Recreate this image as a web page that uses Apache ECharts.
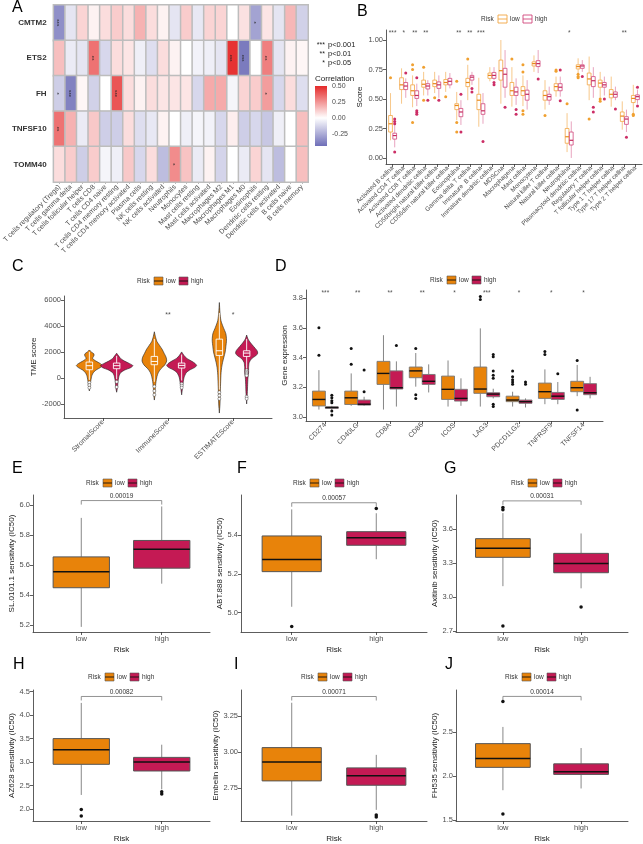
<!DOCTYPE html>
<html>
<head>
<meta charset="utf-8">
<script src="https://cdn.jsdelivr.net/npm/echarts@6/dist/echarts.min.js"></script>
<style>
  html, body { margin: 0; padding: 0; background: #fff; }
  #chart { width: 643px; height: 844px; }
</style>
</head>
<body>
<div id="chart"></div>
<script>
// ---------- A: correlation heatmap ----------
var heatRows = ['CMTM2', 'ETS2', 'FH', 'TNFSF10', 'TOMM40'];
var heatCols = ['T cells regulatory (Tregs)', 'T cells gamma delta', 'T cells follicular helper', 'T cells CD8',
  'T cells CD4 naive', 'T cells CD4 memory resting', 'T cells CD4 memory activated', 'Plasma cells',
  'NK cells resting', 'NK cells activated', 'Neutrophils', 'Monocytes', 'Mast cells resting',
  'Mast cells activated', 'Macrophages M2', 'Macrophages M1', 'Macrophages M0', 'Eosinophils',
  'Dendritic cells resting', 'Dendritic cells activated', 'B cells naive', 'B cells memory'];
var corrCMTM2 = [-0.34, -0.08, 0.10, 0.03, 0.08, 0.12, 0.08, 0.18, 0.08, 0.03, -0.08, 0.12, -0.07, 0.10, 0.10, 0.0, 0.07, -0.28, 0.06, -0.08, 0.17, -0.14];
var corrETS2 = [0.15, -0.06, -0.08, 0.33, -0.12, 0.08, 0.06, -0.05, -0.10, 0.08, 0.03, 0.0, -0.04, -0.05, -0.08, 0.48, -0.40, 0.0, 0.30, -0.08, 0.03, 0.02];
var corrFH = [-0.15, -0.38, 0.02, -0.14, 0.0, 0.40, 0.08, 0.03, 0.08, 0.06, 0.06, 0.06, -0.12, 0.20, 0.20, -0.03, 0.10, 0.12, 0.23, -0.12, 0.08, -0.10];
var corrTNFSF10 = [0.33, 0.18, -0.06, 0.13, -0.15, -0.15, 0.08, -0.10, -0.07, 0.03, 0.0, -0.05, -0.03, -0.04, -0.12, 0.04, -0.15, -0.12, -0.17, -0.05, 0.0, 0.15];
var corrTOMM40 = [0.08, 0.12, -0.15, 0.12, -0.03, -0.05, 0.13, -0.12, 0.08, -0.20, 0.27, 0.14, -0.06, 0.03, -0.13, 0.0, -0.06, 0.10, -0.08, -0.20, 0.0, 0.15];
var starsCMTM2 = ['***', '', '', '', '', '', '', '', '', '', '', '', '', '', '', '', '', '*', '', '', '', ''];
var starsETS2 = ['', '', '', '**', '', '', '', '', '', '', '', '', '', '', '', '***', '***', '', '**', '', '', ''];
var starsFH = ['*', '***', '', '', '', '***', '', '', '', '', '', '', '', '', '', '', '', '', '*', '', '', ''];
var starsTNFSF10 = ['**', '', '', '', '', '', '', '', '', '', '', '', '', '', '', '', '', '', '', '', '', ''];
var starsTOMM40 = ['', '', '', '', '', '', '', '', '', '', '*', '', '', '', '', '', '', '', '', '', '', ''];
var corrTicks = [-0.25, 0, 0.25, 0.5];

// ---------- B: ssGSEA scores ----------
var ssgseaCells = ['Activated B cellna', 'Activated CD4 T cellna', 'Activated CD8 T cellna', 'Activated dendritic cellna',
  'CD56bright natural killer cellna', 'CD56dim natural killer cellna', 'Eosinophilna', 'Gamma delta T cellna',
  'Immature  B cellna', 'Immature dendritic cellna', 'MDSCna', 'Macrophagena', 'Mast cellna', 'Monocytena',
  'Natural killer T cellna', 'Natural killer cellna', 'Neutrophilna', 'Plasmacytoid dendritic cellna',
  'Regulatory T cellna', 'T follicular helper cellna', 'Type 1 T helper cellna', 'Type 17 T helper cellna',
  'Type 2 T helper cellna'];
// [lower whisker, Q1, median, Q3, upper whisker]
var scoreLow = [[0.15, 0.22, 0.29, 0.36, 0.55], [0.46, 0.58, 0.62, 0.68, 0.76], [0.43, 0.53, 0.57, 0.62, 0.70],
  [0.53, 0.60, 0.625, 0.66, 0.73], [0.55, 0.605, 0.63, 0.66, 0.73], [0.56, 0.62, 0.64, 0.665, 0.73],
  [0.32, 0.41, 0.445, 0.46, 0.56], [0.49, 0.605, 0.64, 0.675, 0.79], [0.265, 0.41, 0.49, 0.54, 0.68],
  [0.65, 0.675, 0.70, 0.72, 0.77], [0.46, 0.66, 0.74, 0.83, 1.00], [0.435, 0.53, 0.57, 0.64, 0.77],
  [0.44, 0.53, 0.57, 0.605, 0.70], [0.73, 0.78, 0.80, 0.815, 0.87], [0.41, 0.49, 0.53, 0.57, 0.66],
  [0.52, 0.57, 0.605, 0.63, 0.69], [0.05, 0.125, 0.18, 0.25, 0.38], [0.72, 0.755, 0.775, 0.79, 0.845],
  [0.49, 0.62, 0.67, 0.72, 0.86], [0.51, 0.60, 0.635, 0.66, 0.73], [0.435, 0.51, 0.54, 0.58, 0.69],
  [0.24, 0.31, 0.355, 0.39, 0.48], [0.38, 0.47, 0.505, 0.53, 0.62]];
var scoreHigh = [[0.09, 0.16, 0.19, 0.21, 0.28], [0.51, 0.58, 0.61, 0.64, 0.675], [0.44, 0.505, 0.53, 0.57, 0.63],
  [0.53, 0.585, 0.61, 0.63, 0.66], [0.51, 0.59, 0.62, 0.645, 0.70], [0.59, 0.62, 0.65, 0.675, 0.72],
  [0.28, 0.35, 0.39, 0.42, 0.49], [0.62, 0.66, 0.685, 0.70, 0.73], [0.29, 0.37, 0.40, 0.46, 0.55],
  [0.66, 0.675, 0.70, 0.725, 0.77], [0.51, 0.60, 0.71, 0.76, 0.915], [0.45, 0.53, 0.56, 0.60, 0.675],
  [0.41, 0.49, 0.54, 0.575, 0.66], [0.72, 0.775, 0.80, 0.825, 0.915], [0.45, 0.49, 0.52, 0.54, 0.605],
  [0.52, 0.57, 0.60, 0.63, 0.69], [0.0, 0.11, 0.15, 0.22, 0.31], [0.73, 0.76, 0.78, 0.79, 0.83],
  [0.51, 0.605, 0.655, 0.69, 0.77], [0.53, 0.60, 0.62, 0.64, 0.69], [0.49, 0.515, 0.54, 0.56, 0.605],
  [0.22, 0.285, 0.33, 0.35, 0.41], [0.46, 0.495, 0.52, 0.535, 0.58]];
var scoreLowOut = [[0.68], [], [0.79, 0.75, 0.30], [0.77, 0.49], [0.51], [0.52], [0.65, 0.30, 0.22], [0.84], [], [], [],
  [0.84], [0.79, 0.73, 0.40, 0.37], [], [0.36], [0.745, 0.735], [0.46], [0.71, 0.69, 0.68], [0.33], [0.50, 0.48], [], [], [0.37, 0.36]];
var scoreHighOut = [[0.33, 0.31, 0.29, 0.05], [0.72], [0.68, 0.40, 0.385, 0.37], [0.49], [0.49], [], [0.54, 0.22], [0.59, 0.56],
  [0.14], [0.64, 0.62], [0.43], [0.41, 0.37], [], [0.67], [], [0.745, 0.485], [], [0.69], [0.43, 0.39], [0.50], [0.415], [0.175], [0.60, 0.44]];
var scoreStars = ['***', '*', '**', '**', '', '', '**', '**', '***', '', '', '', '', '', '', '', '*', '', '', '', '', '**', ''];
var scoreTicks = [0, 0.25, 0.5, 0.75, 1];

// ---------- C: TME scores (violins) ----------
var tmeNames = ['StromalScore', 'ImmuneScore', 'ESTIMATEScore'];
// [score, relative density]
var tmeLowDensity = [
  [[2150, 0], [2000, 0.12], [1850, 0.28], [1700, 0.28], [1500, 0.2], [1300, 0.4], [1100, 0.68], [950, 0.8], [800, 0.68], [600, 0.4], [400, 0.24], [200, 0.16], [0, 0.12], [-300, 0.08], [-600, 0.06], [-1000, 0]],
  [[3550, 0], [3200, 0.06], [2800, 0.16], [2500, 0.32], [2200, 0.48], [1900, 0.6], [1600, 0.72], [1300, 0.76], [1000, 0.64], [700, 0.4], [400, 0.24], [100, 0.16], [-300, 0.1], [-800, 0.06], [-1300, 0.04], [-1700, 0]],
  [[5800, 0], [5000, 0.04], [4400, 0.1], [3900, 0.24], [3400, 0.4], [2900, 0.44], [2400, 0.4], [2000, 0.36], [1600, 0.28], [1200, 0.2], [800, 0.14], [300, 0.1], [-300, 0.08], [-1000, 0.06], [-2000, 0.04], [-2700, 0]]];
var tmeHighDensity = [
  [[1900, 0], [1700, 0.12], [1500, 0.24], [1300, 0.48], [1100, 0.8], [950, 1.0], [800, 0.88], [600, 0.48], [400, 0.24], [200, 0.16], [0, 0.12], [-300, 0.08], [-700, 0.06], [-1100, 0]],
  [[2000, 0], [1700, 0.16], [1500, 0.32], [1300, 0.6], [1100, 0.84], [950, 0.92], [800, 0.8], [600, 0.48], [400, 0.28], [200, 0.2], [0, 0.14], [-300, 0.1], [-700, 0.06], [-1300, 0]],
  [[3300, 0], [3000, 0.08], [2700, 0.24], [2400, 0.44], [2100, 0.64], [1900, 0.68], [1700, 0.56], [1500, 0.32], [1200, 0.16], [800, 0.12], [400, 0.12], [0, 0.08], [-500, 0.06], [-1200, 0.04], [-2000, 0]]];
var tmeLowBox = [[-150, 630, 940, 1220, 2000], [-300, 1016, 1270, 1655, 3000], [-900, 1731, 2090, 2984, 5000]];
var tmeHighBox = [[-100, 710, 940, 1145, 1700], [-200, 760, 965, 1145, 1800], [700, 1655, 1910, 2090, 3000]];
var tmeLowOut = [[-350, -550, -750], [-650, -1000, -1300], [-1100, -1350, -1600]];
var tmeHighOut = [[-300, -700], [-450, -600, -750], [600, 480, 380, 280, 180, -1450, -1600]];
var tmeStars = ['', '**', '*'];
var tmeTicks = [-2000, 0, 2000, 4000, 6000];

// ---------- D: immune checkpoint genes ----------
var checkpointGenes = ['CD274', 'CD40LG', 'CD8A', 'CD86', 'ICOS', 'LAG3', 'PDCD1LG2', 'TNFRSF9', 'TNFSF14'];
var geneLow = [[3.05, 3.074, 3.118, 3.174, 3.315], [3.075, 3.084, 3.129, 3.174, 3.293], [3.05, 3.219, 3.293, 3.374, 3.55],
  [3.204, 3.264, 3.31, 3.336, 3.43], [3.07, 3.118, 3.186, 3.275, 3.38], [3.07, 3.159, 3.188, 3.336, 3.596],
  [3.07, 3.103, 3.114, 3.14, 3.17], [3.086, 3.125, 3.17, 3.228, 3.32], [3.14, 3.17, 3.197, 3.24, 3.35]];
var geneHigh = [[3.045, 3.058, 3.064, 3.068, 3.075], [3.075, 3.08, 3.086, 3.114, 3.136], [3.07, 3.188, 3.197, 3.31, 3.374],
  [3.165, 3.219, 3.24, 3.286, 3.354], [3.075, 3.107, 3.125, 3.186, 3.26], [3.125, 3.136, 3.154, 3.163, 3.19],
  [3.064, 3.092, 3.103, 3.114, 3.125], [3.086, 3.118, 3.14, 3.165, 3.235], [3.125, 3.15, 3.163, 3.224, 3.27]];
var geneLowOut = [[3.60, 3.416], [3.46, 3.354], [], [3.46, 3.15, 3.125], [], [3.81, 3.79], [3.31, 3.27, 3.25, 3.235, 3.22], [3.44, 3.42], [3.38, 3.047]];
var geneHighOut = [[3.146, 3.129, 3.11, 3.095, 3.04, 3.013], [3.316, 3.17], [3.48], [], [], [3.42, 3.405, 3.31, 3.28, 3.26, 3.086, 3.07], [3.235, 3.22], [3.29], []];
var geneStars = ['***', '**', '**', '**', '*', '***', '*', '*', '*'];
var geneTicks = [3.0, 3.2, 3.4, 3.6, 3.8];

// ---------- E-J: drug sensitivity ----------
var riskGroups = ['low', 'high'];
var drugNames = ['SL.0101.1', 'ABT.888', 'Axitinib', 'AZ628', 'Embelin', 'FH535'];
var drugLow = [[5.19, 5.45, 5.557, 5.655, 5.914], [5.03, 5.211, 5.273, 5.395, 5.532], [3.094, 3.349, 3.43, 3.514, 3.74],
  [2.30, 2.952, 3.26, 3.5, 4.26], [2.56, 2.80, 2.93, 3.03, 3.34], [1.84, 2.10, 2.20, 2.37, 2.56]];
var drugHigh = [[5.477, 5.58, 5.705, 5.764, 5.99], [5.275, 5.347, 5.386, 5.417, 5.512], [3.075, 3.213, 3.294, 3.384, 3.56],
  [2.42, 2.81, 3.0, 3.1, 3.37], [2.60, 2.77, 2.835, 2.89, 2.98], [1.86, 2.02, 2.05, 2.14, 2.32]];
var drugLowOut = [[], [4.928], [3.77, 3.79, 2.743], [1.99, 1.85], [], [2.85, 1.57]];
var drugHighOut = [[], [5.537], [2.91], [2.37, 2.32], [2.565, 2.55], []];
var drugPValue = ['0.00019', '0.00057', '0.00031', '0.00082', '0.00071', '0.00014'];
var drugBracketY = [6.029, 5.566, 3.848, 4.397, 3.383, 2.907];
var drugTicks = [[5.2, 5.4, 5.6, 5.8, 6.0], [5.0, 5.2, 5.4], [2.7, 3.0, 3.3, 3.6], [2.0, 2.5, 3.0, 3.5, 4.0, 4.5], [2.75, 3.00, 3.25], [1.5, 2.0, 2.5]];

// ---------- layout / style ----------
var FONT = 'Liberation Sans, Arial, Helvetica, sans-serif';
var AX = '#333';
var TXT = '#4d4d4d';
var ORANGE = '#E8830A';
var CRIMSON = '#C41A54';
var BLUE = '#5A5AAE';
var RED = '#E52A2A';
var drugGrids = [
  { left: 33, top: 495, width: 177, height: 137, min: 5.156, max: 6.066, dec: 1 },
  { left: 241, top: 495, width: 186, height: 137, min: 4.90, max: 5.606, dec: 1 },
  { left: 456, top: 495, width: 172, height: 137, min: 2.689, max: 3.90, dec: 1 },
  { left: 33, top: 690, width: 177, height: 136, min: 1.745, max: 4.535, dec: 1 },
  { left: 241, top: 690, width: 186, height: 136, min: 2.523, max: 3.428, dec: 2 },
  { left: 456, top: 690, width: 172, height: 136, min: 1.49, max: 2.98, dec: 1 }
];

function mix(c1, c2, t) {
  var a = [1, 3, 5].map(function (i) { return parseInt(c1.substr(i, 2), 16); });
  var b = [1, 3, 5].map(function (i) { return parseInt(c2.substr(i, 2), 16); });
  return 'rgb(' + a.map(function (v, k) { return Math.round(v + (b[k] - v) * t); }).join(',') + ')';
}

function valueY(grid, min, max, ticks, dec, name, gap) {
  return {
    type: 'value', gridIndex: grid, min: min, max: max,
    axisLine: { show: true, onZero: false, lineStyle: { color: AX, width: 0.8 } },
    axisTick: { show: true, length: 3, customValues: ticks, lineStyle: { color: AX, width: 0.8 } },
    axisLabel: { customValues: ticks, formatter: function (v) { return v.toFixed(dec); }, fontSize: 7.5, color: TXT, margin: 3, fontFamily: FONT },
    splitLine: { show: false },
    name: name, nameLocation: 'middle', nameGap: gap,
    nameTextStyle: { fontSize: 8, color: '#222', fontFamily: FONT }
  };
}

function groupX(grid, names, rotate, fs, name, gap) {
  var ticks = names.map(function (_, i) { return i; });
  return {
    type: 'value', gridIndex: grid, min: -0.6, max: names.length - 0.4,
    axisLine: { show: true, onZero: false, lineStyle: { color: AX, width: 0.8 } },
    axisTick: { show: true, length: 3, customValues: ticks, lineStyle: { color: AX, width: 0.8 } },
    axisLabel: { customValues: ticks, formatter: function (v) { return names[Math.round(v)]; }, rotate: rotate, fontSize: fs, color: TXT, margin: 3, fontFamily: FONT },
    splitLine: { show: false },
    name: name, nameLocation: 'middle', nameGap: gap,
    nameTextStyle: { fontSize: 8, color: '#222', fontFamily: FONT }
  };
}

function boxItem(o) {
  return function (params, api) {
    var x = api.value(0) + o.off;
    var yLo = api.coord([x, api.value(1)])[1];
    var yQ1 = api.coord([x, api.value(2)])[1];
    var md = api.coord([x, api.value(3)]);
    var yQ3 = api.coord([x, api.value(4)])[1];
    var yHi = api.coord([x, api.value(5)])[1];
    var xl = api.coord([x - o.half, api.value(3)])[0];
    var xr = api.coord([x + o.half, api.value(3)])[0];
    var ws = { stroke: o.whisker, lineWidth: o.wlw };
    return {
      type: 'group', children: [
        { type: 'line', shape: { x1: md[0], y1: yHi, x2: md[0], y2: yQ3 }, style: ws },
        { type: 'line', shape: { x1: md[0], y1: yQ1, x2: md[0], y2: yLo }, style: ws },
        { type: 'rect', shape: { x: xl, y: yQ3, width: xr - xl, height: yQ1 - yQ3 }, style: { fill: o.fill, stroke: o.stroke, lineWidth: o.blw } },
        { type: 'line', shape: { x1: xl, y1: md[1], x2: xr, y2: md[1] }, style: { stroke: o.median, lineWidth: o.mlw } }
      ]
    };
  };
}

function boxSeries(axis, name, boxes, o) {
  return {
    type: 'custom', name: name, xAxisIndex: axis, yAxisIndex: axis, renderItem: boxItem(o), silent: true,
    data: boxes.map(function (b, i) { return [i].concat(b); }), encode: { x: 0, y: [1, 2, 3, 4, 5] }
  };
}

function outlierSeries(axis, out, off, color, size, border) {
  var pts = [];
  out.forEach(function (list, i) { list.forEach(function (v) { pts.push([i + off, v]); }); });
  return {
    type: 'scatter', xAxisIndex: axis, yAxisIndex: axis, data: pts, symbolSize: size, silent: true,
    itemStyle: { color: color, borderColor: border || color, borderWidth: border ? 0.5 : 0, opacity: 1 }
  };
}

function starSeries(axis, stars, y, fs) {
  return {
    type: 'scatter', xAxisIndex: axis, yAxisIndex: axis, symbolSize: 1, silent: true,
    itemStyle: { color: 'rgba(0,0,0,0)' },
    data: stars.map(function (s, i) { return [i, y, s]; }),
    label: { show: true, position: 'inside', formatter: function (p) { return p.data[2]; }, fontSize: fs, color: '#222', fontFamily: FONT }
  };
}

function violinSeries(axis, density, off, color) {
  return {
    type: 'custom', xAxisIndex: axis, yAxisIndex: axis, silent: true,
    data: density.map(function (_, i) { return [i, 0]; }),
    renderItem: function (params, api) {
      var c = api.value(0) + off;
      var prof = density[params.dataIndex];
      var right = prof.map(function (p) { return api.coord([c + p[1] * 0.25, p[0]]); });
      var left = prof.slice().reverse().map(function (p) { return api.coord([c - p[1] * 0.25, p[0]]); });
      return { type: 'polygon', shape: { points: right.concat(left), smooth: 0.25 }, style: { fill: color, stroke: '#222', lineWidth: 0.6 } };
    }
  };
}

function bracketSeries(axis, y, text) {
  return {
    type: 'custom', xAxisIndex: axis, yAxisIndex: axis, silent: true, data: [[0, 1, y]],
    renderItem: function (params, api) {
      var a = api.coord([api.value(0), api.value(2)]);
      var b = api.coord([api.value(1), api.value(2)]);
      return {
        type: 'group', children: [
          { type: 'polyline', shape: { points: [[a[0], a[1] + 4], [a[0], a[1]], [b[0], b[1]], [b[0], b[1] + 4]] }, style: { stroke: '#777', lineWidth: 0.8, fill: null } },
          { type: 'text', x: (a[0] + b[0]) / 2, y: a[1] - 1, style: { text: text, fontSize: 6.5, fill: '#333', align: 'center', verticalAlign: 'bottom', fontFamily: FONT } }
        ]
      };
    }
  };
}

function riskLegend(x, y, outline) {
  var els = [];
  function txt(tx, t) {
    els.push({ type: 'text', x: tx, y: y, style: { text: t, fontSize: 6.5, fill: '#333', verticalAlign: 'middle', fontFamily: FONT } });
  }
  function icon(ix, color) {
    els.push({ type: 'rect', shape: { x: ix, y: y - 4, width: 9, height: 8 }, style: outline ? { fill: '#fff', stroke: color, lineWidth: 0.9 } : { fill: color, stroke: '#555', lineWidth: 0.6 } });
    els.push({ type: 'line', shape: { x1: ix, y1: y, x2: ix + 9, y2: y }, style: { stroke: outline ? color : '#111', lineWidth: 0.9 } });
  }
  txt(x, 'Risk');
  icon(x + 17, outline ? '#F2A541' : ORANGE);
  txt(x + 29, 'low');
  icon(x + 42, outline ? '#D1457A' : CRIMSON);
  txt(x + 54, 'high');
  return els;
}

function letter(t, x, y) {
  return { type: 'text', x: x, y: y, style: { text: t, fontSize: 16, fill: '#000', verticalAlign: 'middle', fontFamily: FONT } };
}

// ---------- assemble ----------
var corrRows = [corrCMTM2, corrETS2, corrFH, corrTNFSF10, corrTOMM40];
var starRows = [starsCMTM2, starsETS2, starsFH, starsTNFSF10, starsTOMM40];
var heatData = [];
corrRows.forEach(function (row, r) {
  row.forEach(function (v, c) { heatData.push([c, r, v]); });
});

var grids = [
  { left: 52, top: 5, width: 256, height: 177 },
  { left: 315, top: 86, width: 12, height: 60 },
  { left: 386, top: 30, width: 256, height: 134 },
  { left: 64, top: 296, width: 208, height: 122 },
  { left: 306, top: 290, width: 297, height: 131 }
];
drugGrids.forEach(function (g) { grids.push({ left: g.left, top: g.top, width: g.width, height: g.height }); });

var xAxes = [
  {
    type: 'category', gridIndex: 0, data: heatCols,
    axisLine: { show: false },
    axisTick: { show: true, length: 2, alignWithLabel: true, lineStyle: { color: '#bbb' } },
    axisLabel: { interval: 0, rotate: 45, fontSize: 7, color: TXT, margin: 4, fontFamily: FONT },
    splitLine: { show: false }
  },
  { type: 'value', gridIndex: 1, min: 0, max: 1, show: false },
  groupX(2, ssgseaCells, 45, 6.3, '', 0),
  groupX(3, tmeNames, 45, 7, '', 0),
  groupX(4, checkpointGenes, 45, 7, '', 0)
];
var yAxes = [
  {
    type: 'category', gridIndex: 0, data: heatRows, inverse: true,
    axisLine: { show: false }, axisTick: { show: false },
    axisLabel: { fontSize: 8, fontWeight: 'bold', color: '#333', margin: 7, fontFamily: FONT },
    splitLine: { show: false }
  },
  {
    type: 'value', gridIndex: 1, min: -0.44, max: 0.5, position: 'right',
    axisLine: { show: false },
    axisTick: { show: true, inside: true, length: 3, customValues: corrTicks, lineStyle: { color: '#fff', width: 1 } },
    axisLabel: { customValues: corrTicks, formatter: function (v) { return v.toFixed(2); }, fontSize: 7, color: TXT, margin: 5, fontFamily: FONT },
    splitLine: { show: false }
  },
  valueY(2, -0.051, 1.085, scoreTicks, 2, 'Score', 22),
  valueY(3, -3080, 6300, tmeTicks, 0, 'TME score', 26),
  valueY(4, 2.973, 3.854, geneTicks, 1, 'Gene expression', 16)
];
drugGrids.forEach(function (g, k) {
  xAxes.push(groupX(5 + k, riskGroups, 0, 7.5, 'Risk', 14));
  yAxes.push(valueY(5 + k, g.min, g.max, drugTicks[k], g.dec, drugNames[k] + ' sensitivity (IC50)', 17));
});

var series = [
  {
    type: 'heatmap', xAxisIndex: 0, yAxisIndex: 0, data: heatData, silent: true,
    itemStyle: { borderColor: '#BDBDBD', borderWidth: 1.5 },
    label: {
      show: true, rotate: 90, fontSize: 6, color: '#222', fontFamily: FONT,
      formatter: function (p) { return starRows[p.value[1]][p.value[0]]; }
    }
  },
  {
    type: 'custom', xAxisIndex: 1, yAxisIndex: 1, silent: true, data: [[0, -0.44, 1, 0.5]],
    renderItem: function (params, api) {
      var p0 = api.coord([api.value(0), api.value(3)]);
      var p1 = api.coord([api.value(2), api.value(1)]);
      return {
        type: 'rect', shape: { x: p0[0], y: p0[1], width: p1[0] - p0[0], height: p1[1] - p0[1] },
        style: {
          fill: new echarts.graphic.LinearGradient(0, 0, 0, 1, [
            { offset: 0, color: RED },
            { offset: 0.5 / 0.94, color: '#FFFFFF' },
            { offset: 1, color: mix('#FFFFFF', BLUE, 0.88) }
          ])
        }
      };
    }
  },
  // B
  boxSeries(2, 'low', scoreLow, { off: -0.19, half: 0.17, fill: '#fff', stroke: '#F2A541', blw: 0.8, median: '#E8891A', mlw: 1.2, whisker: '#F6C27E', wlw: 0.9 }),
  boxSeries(2, 'high', scoreHigh, { off: 0.19, half: 0.17, fill: '#fff', stroke: '#D1457A', blw: 0.8, median: '#C42A5E', mlw: 1.2, whisker: '#E59AB8', wlw: 0.9 }),
  outlierSeries(2, scoreLowOut, -0.19, '#F0A030', 3),
  outlierSeries(2, scoreHighOut, 0.19, '#CC2E66', 3),
  starSeries(2, scoreStars, 1.06, 6.5),
  // C
  violinSeries(3, tmeLowDensity, -0.21, ORANGE),
  violinSeries(3, tmeHighDensity, 0.21, CRIMSON),
  boxSeries(3, 'low', tmeLowBox, { off: -0.21, half: 0.05, fill: 'rgba(0,0,0,0)', stroke: '#fff', blw: 0.9, median: '#fff', mlw: 1, whisker: '#fff', wlw: 0.9 }),
  boxSeries(3, 'high', tmeHighBox, { off: 0.21, half: 0.05, fill: 'rgba(0,0,0,0)', stroke: '#fff', blw: 0.9, median: '#fff', mlw: 1, whisker: '#fff', wlw: 0.9 }),
  outlierSeries(3, tmeLowOut, -0.21, '#fff', 3, '#555'),
  outlierSeries(3, tmeHighOut, 0.21, '#fff', 3, '#555'),
  starSeries(3, tmeStars, 4800, 7),
  // D
  boxSeries(4, 'low', geneLow, { off: -0.2, half: 0.2, fill: ORANGE, stroke: '#777', blw: 0.9, median: '#111', mlw: 1.4, whisker: '#777', wlw: 0.9 }),
  boxSeries(4, 'high', geneHigh, { off: 0.2, half: 0.2, fill: CRIMSON, stroke: '#777', blw: 0.9, median: '#111', mlw: 1.4, whisker: '#777', wlw: 0.9 }),
  outlierSeries(4, geneLowOut, -0.2, '#111', 3),
  outlierSeries(4, geneHighOut, 0.2, '#111', 3),
  starSeries(4, geneStars, 3.835, 6.5)
];
drugGrids.forEach(function (g, k) {
  var ax = 5 + k;
  series.push(boxSeries(ax, 'low', [drugLow[k]], { off: 0, half: 0.35, fill: ORANGE, stroke: '#555', blw: 1, median: '#111', mlw: 1.5, whisker: '#888', wlw: 1 }));
  series.push(boxSeries(ax, 'high', [null].concat([drugHigh[k]]).slice(1), { off: 1, half: 0.35, fill: CRIMSON, stroke: '#555', blw: 1, median: '#111', mlw: 1.5, whisker: '#888', wlw: 1 }));
  series.push(outlierSeries(ax, [drugLowOut[k], drugHighOut[k]], 0, '#111', 3.5));
  series.push(bracketSeries(ax, drugBracketY[k], drugPValue[k]));
});

var graphic = [
  letter('A', 12, 8), letter('B', 357, 12), letter('C', 12, 267), letter('D', 275, 267),
  letter('E', 12, 469), letter('F', 237, 469), letter('G', 444, 469),
  letter('H', 13, 665), letter('I', 234, 665), letter('J', 445, 665),
  { type: 'text', x: 325, y: 45, style: { text: '***', fontSize: 7, fill: '#222', align: 'right', verticalAlign: 'middle', fontFamily: FONT } },
  { type: 'text', x: 325, y: 54, style: { text: '**', fontSize: 7, fill: '#222', align: 'right', verticalAlign: 'middle', fontFamily: FONT } },
  { type: 'text', x: 325, y: 63, style: { text: '*', fontSize: 7, fill: '#222', align: 'right', verticalAlign: 'middle', fontFamily: FONT } },
  { type: 'text', x: 328, y: 45, style: { text: 'p<0.001', fontSize: 7.5, fill: '#222', verticalAlign: 'middle', fontFamily: FONT } },
  { type: 'text', x: 328, y: 54, style: { text: 'p<0.01', fontSize: 7.5, fill: '#222', verticalAlign: 'middle', fontFamily: FONT } },
  { type: 'text', x: 328, y: 63, style: { text: 'p<0.05', fontSize: 7.5, fill: '#222', verticalAlign: 'middle', fontFamily: FONT } },
  { type: 'text', x: 315, y: 79, style: { text: 'Correlation', fontSize: 8, fill: '#222', verticalAlign: 'middle', fontFamily: FONT } }
]
  .concat(riskLegend(481, 19, true))
  .concat(riskLegend(137, 281, false))
  .concat(riskLegend(430, 280, false))
  .concat(riskLegend(86, 483, false))
  .concat(riskLegend(293, 483, false))
  .concat(riskLegend(511, 483, false))
  .concat(riskLegend(88, 677, false))
  .concat(riskLegend(301, 677, false))
  .concat(riskLegend(505, 677, false));

var chart = echarts.init(document.getElementById('chart'));
chart.setOption({
  animation: false,
  backgroundColor: '#fff',
  textStyle: { fontFamily: FONT },
  visualMap: [{
    type: 'continuous', show: false, seriesIndex: 0, dimension: 2, min: -0.5, max: 0.5,
    inRange: { color: [BLUE, '#FFFFFF', RED] }
  }],
  grid: grids,
  xAxis: xAxes,
  yAxis: yAxes,
  series: series,
  graphic: graphic
});
</script>
</body>
</html>
